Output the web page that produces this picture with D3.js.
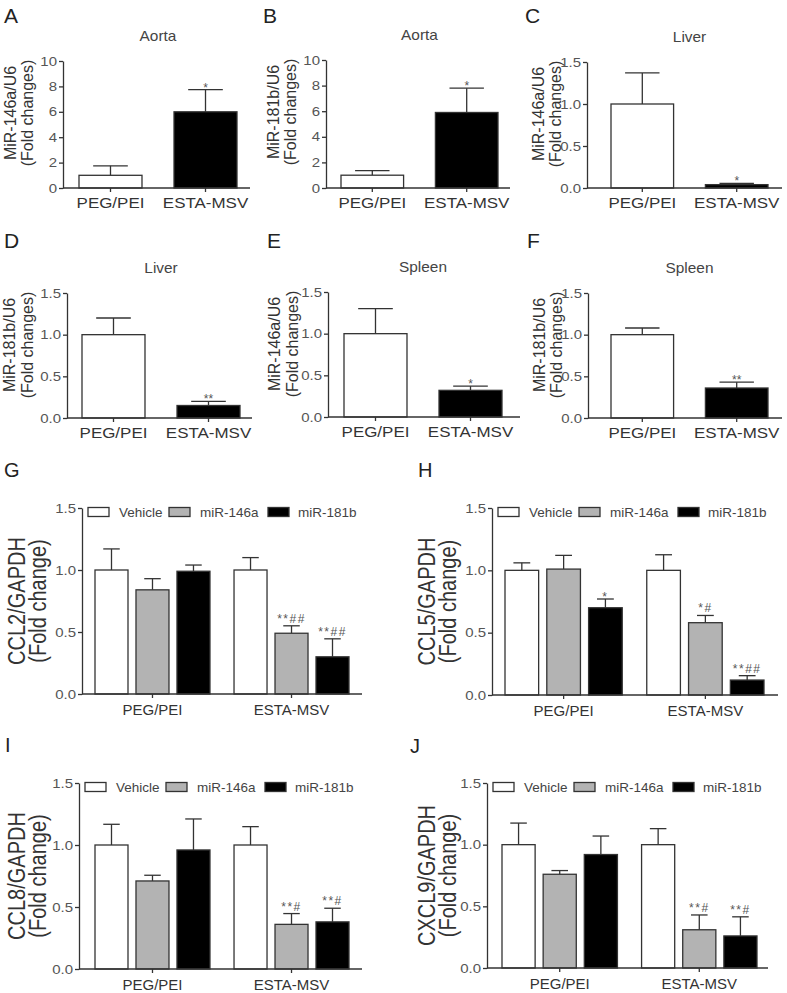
<!DOCTYPE html>
<html><head><meta charset="utf-8">
<script src="https://cdn.jsdelivr.net/npm/d3@7"></script>
<style>
html,body{margin:0;padding:0;background:#fff;}
svg text{font-family:'Liberation Sans',Arial,Helvetica,sans-serif;}
</style></head>
<body><svg id="chart" width="787" height="993"></svg>
<script>
// ---------- DATA ----------
const groups = ["PEG/PEI", "ESTA-MSV"];
const series = ["Vehicle", "miR-146a", "miR-181b"];
const seriesColors = ["#ffffff", "#b3b3b3", "#000000"];

const topLetters = ["A", "B", "C", "D", "E", "F"];
const topTitles = ["Aorta", "Aorta", "Liver", "Liver", "Spleen", "Spleen"];
const topYLabels = ["MiR-146a/U6", "MiR-181b/U6", "MiR-146a/U6", "MiR-181b/U6", "MiR-146a/U6", "MiR-181b/U6"];
const topYLabel2 = "(Fold changes)";
const aortaTicks = [0, 2, 4, 6, 8, 10];
const fracTicks = [0, 0.5, 1.0, 1.5];

const aMean = [1.0, 6.0],  aErr = [0.75, 1.75],  aSig = ["", "*"];
const bMean = [1.0, 5.9],  bErr = [0.35, 1.9],   bSig = ["", "*"];
const cMean = [1.0, 0.04], cErr = [0.37, 0.015], cSig = ["", "*"];
const dMean = [1.0, 0.15], dErr = [0.20, 0.05],  dSig = ["", "**"];
const eMean = [1.0, 0.32], eErr = [0.30, 0.05],  eSig = ["", "*"];
const fMean = [1.0, 0.36], fErr = [0.08, 0.07],  fSig = ["", "**"];

const bottomLetters = ["G", "H", "I", "J"];
const bottomYLabels = ["CCL2/GAPDH", "CCL5/GAPDH", "CCL8/GAPDH", "CXCL9/GAPDH"];
const bottomYLabel2 = "(Fold change)";

// values per group [PEG/PEI, ESTA-MSV]
const ccl2Vehicle = [1.0, 1.0],   ccl2VehicleErr = [0.17, 0.10];
const ccl2Mir146a = [0.84, 0.49], ccl2Mir146aErr = [0.09, 0.06];
const ccl2Mir181b = [0.99, 0.30], ccl2Mir181bErr = [0.05, 0.145];
const ccl2Sig146a = ["", "**##"], ccl2Sig181b = ["", "**##"];

const ccl5Vehicle = [1.0, 1.0],   ccl5VehicleErr = [0.06, 0.125];
const ccl5Mir146a = [1.01, 0.58], ccl5Mir146aErr = [0.11, 0.058];
const ccl5Mir181b = [0.70, 0.12], ccl5Mir181bErr = [0.07, 0.035];
const ccl5Sig146a = ["", "*#"],   ccl5Sig181b = ["*", "**##"];

const ccl8Vehicle = [1.0, 1.0],   ccl8VehicleErr = [0.167, 0.148];
const ccl8Mir146a = [0.71, 0.36], ccl8Mir146aErr = [0.046, 0.087];
const ccl8Mir181b = [0.96, 0.38], ccl8Mir181bErr = [0.25, 0.11];
const ccl8Sig146a = ["", "**#"],  ccl8Sig181b = ["", "**#"];

const cxcl9Vehicle = [1.0, 1.0],   cxcl9VehicleErr = [0.175, 0.13];
const cxcl9Mir146a = [0.76, 0.31], cxcl9Mir146aErr = [0.03, 0.12];
const cxcl9Mir181b = [0.92, 0.26], cxcl9Mir181bErr = [0.15, 0.155];
const cxcl9Sig146a = ["", "**#"],  cxcl9Sig181b = ["", "**#"];

// ---------- LAYOUT ----------
const topLayout = [
  {axisX:63,  yTop:61,  y0:188, bs:79,  be:237, xEnd:250, yl:[16,33],   lx:4},
  {axisX:326, yTop:60,  y0:188, bs:341, be:498, xEnd:510, yl:[279,296], lx:263},
  {axisX:587, yTop:62,  y0:188, bs:611, be:768, xEnd:782, yl:[544,561], lx:525},
  {axisX:67,  yTop:293, y0:418, bs:82,  be:240, xEnd:252, yl:[15,33],   lx:4},
  {axisX:328, yTop:292, y0:417, bs:344, be:502, xEnd:520, yl:[280,298], lx:267},
  {axisX:588, yTop:293, y0:418, bs:611, be:768, xEnd:782, yl:[545,562], lx:527}
];
const bottomLayout = [
  {axisX:82,  yTop:508, y0:694, bs:95,  be:349, xEnd:362, yl:[25,46],   lx:4,   ly:477},
  {axisX:492, yTop:508, y0:695, bs:505, be:764, xEnd:778, yl:[435,456], lx:418, ly:477},
  {axisX:79,  yTop:783, y0:969, bs:95,  be:349, xEnd:362, yl:[25,46],   lx:5,   ly:752},
  {axisX:487, yTop:783, y0:968, bs:502, be:757, xEnd:768, yl:[435,456], lx:410, ly:753}
];

const svg = d3.select("#chart");
const AX = "#333";

function stext(g, x, y, str, o) {
  o = o || {};
  const t = g.append("text")
    .attr("transform", `translate(${x},${y}) scale(${o.sx||1},1)` + (o.rot ? ` rotate(${o.rot})` : ""))
    .attr("text-anchor", o.anchor || "start")
    .attr("font-size", o.size || 12)
    .attr("fill", o.fill || "#333")
    .text(str);
  if (o.ls) t.attr("letter-spacing", o.ls);
  return t;
}

function styleYAxis(g, sx) {
  g.select(".domain").attr("stroke", AX).attr("stroke-width", 1.3);
  g.selectAll(".tick line").attr("stroke", AX).attr("stroke-width", 1.3);
  g.selectAll(".tick text").each(function() {
    const t = d3.select(this);
    t.attr("transform", `translate(-6,0) scale(${sx},1)`).attr("x", 0)
     .attr("font-size", 12.5).attr("fill", "#555").attr("font-family", null);
  });
}

function drawXAxis(g, L, xs) {
  g.append("line").attr("x1", L.axisX).attr("x2", L.xEnd).attr("y1", L.y0).attr("y2", L.y0)
    .attr("stroke", AX).attr("stroke-width", 1.3);
  const ax = g.append("g").attr("transform", `translate(0,${L.y0})`)
    .call(d3.axisBottom(xs).tickSize(4).tickSizeOuter(0).tickFormat(""));
  ax.select(".domain").remove();
  ax.selectAll(".tick line").attr("stroke", AX).attr("stroke-width", 1.3);
}

function errBar(g, cx, yTopPx, yCapPx, w) {
  g.append("line").attr("x1", cx).attr("x2", cx).attr("y1", yTopPx).attr("y2", yCapPx)
    .attr("stroke", AX).attr("stroke-width", 1.3);
  g.append("line").attr("x1", cx - w/2).attr("x2", cx + w/2).attr("y1", yCapPx).attr("y2", yCapPx)
    .attr("stroke", AX).attr("stroke-width", 1.3);
}

function sigText(g, cx, capY, s, size, ls) {
  if (!s) return;
  const onlyStars = /^\*+$/.test(s);
  const y = onlyStars ? capY + 2 : capY - 3;
  stext(g, cx, y, s, {anchor:"middle", size:size, fill:"#555", ls:ls});
}

// ---------- TOP PANELS ----------
const topMeans = [aMean, bMean, cMean, dMean, eMean, fMean];
const topErrs = [aErr, bErr, cErr, dErr, eErr, fErr];
const topSigs = [aSig, bSig, cSig, dSig, eSig, fSig];
const topFills = ["#ffffff", "#000000"];

topLayout.forEach((L, i) => {
  const g = svg.append("g");
  const isAorta = i < 2;
  const ticks = isAorta ? aortaTicks : fracTicks;
  const y = d3.scaleLinear().domain([0, isAorta ? 10 : 1.5]).range([L.y0, L.yTop]);
  const xs = d3.scaleBand().domain(groups).range([L.bs, L.be]).paddingInner(0.337).paddingOuter(0);

  groups.forEach((grp, k) => {
    const x0 = xs(grp), w = xs.bandwidth();
    const m = topMeans[i][k], e = topErrs[i][k];
    errBar(g, x0 + w/2, y(m), y(m + e), w * 0.55);
    g.append("rect").attr("x", x0).attr("y", y(m)).attr("width", w).attr("height", L.y0 - y(m))
      .attr("fill", topFills[k]).attr("stroke", AX).attr("stroke-width", 1.3);
    sigText(g, x0 + w/2, y(m + e), topSigs[i][k], 12);
    stext(g, x0 + w/2, L.y0 + 20, grp, {anchor:"middle", size:15, sx:1.13, fill:"#333"});
  });

  const ya = g.append("g").attr("transform", `translate(${L.axisX},0)`)
    .call(d3.axisLeft(y).tickValues(ticks).tickSize(4).tickSizeOuter(0)
      .tickFormat(isAorta ? d3.format("d") : d3.format(".1f")));
  styleYAxis(ya, 1.2);
  drawXAxis(g, L, xs);

  stext(g, (L.bs + L.be)/2, L.yTop - 20, topTitles[i], {anchor:"middle", size:14, sx:1.1, fill:"#444"});
  stext(g, L.lx, i < 3 ? 23 : 248, topLetters[i], {size:21, fill:"#222"});
  const cy = L.yTop + 52;
  stext(g, L.yl[0], cy, topYLabels[i], {anchor:"middle", size:16, sx:1.05, rot:-90, fill:"#333"});
  stext(g, L.yl[1], cy, topYLabel2, {anchor:"middle", size:16, sx:1.05, rot:-90, fill:"#333"});
});

// ---------- BOTTOM PANELS ----------
const bottomVals = [
  [ccl2Vehicle, ccl2Mir146a, ccl2Mir181b],
  [ccl5Vehicle, ccl5Mir146a, ccl5Mir181b],
  [ccl8Vehicle, ccl8Mir146a, ccl8Mir181b],
  [cxcl9Vehicle, cxcl9Mir146a, cxcl9Mir181b]
];
const bottomErrs = [
  [ccl2VehicleErr, ccl2Mir146aErr, ccl2Mir181bErr],
  [ccl5VehicleErr, ccl5Mir146aErr, ccl5Mir181bErr],
  [ccl8VehicleErr, ccl8Mir146aErr, ccl8Mir181bErr],
  [cxcl9VehicleErr, cxcl9Mir146aErr, cxcl9Mir181bErr]
];
const bottomSigs = [
  [["", ""], ccl2Sig146a, ccl2Sig181b],
  [["", ""], ccl5Sig146a, ccl5Sig181b],
  [["", ""], ccl8Sig146a, ccl8Sig181b],
  [["", ""], cxcl9Sig146a, cxcl9Sig181b]
];

bottomLayout.forEach((L, i) => {
  const g = svg.append("g");
  const y = d3.scaleLinear().domain([0, 1.5]).range([L.y0, L.yTop]);
  const xs = d3.scaleBand().domain(groups).range([L.bs, L.be]).paddingInner(0.173).paddingOuter(0);
  const xi = d3.scaleBand().domain(series).range([0, xs.bandwidth()]).paddingInner(0.195).paddingOuter(0);

  groups.forEach((grp, k) => {
    series.forEach((s, j) => {
      const x0 = xs(grp) + xi(s), w = xi.bandwidth();
      const m = bottomVals[i][j][k], e = bottomErrs[i][j][k];
      errBar(g, x0 + w/2, y(m), y(m + e), w * 0.5);
      g.append("rect").attr("x", x0).attr("y", y(m)).attr("width", w).attr("height", L.y0 - y(m))
        .attr("fill", seriesColors[j]).attr("stroke", AX).attr("stroke-width", 1.3);
      sigText(g, x0 + w/2, y(m + e), bottomSigs[i][j][k], 12, 1.5);
    });
    stext(g, xs(grp) + xs.bandwidth()/2, L.y0 + 21, grp, {anchor:"middle", size:15, fill:"#333"});
  });

  const ya = g.append("g").attr("transform", `translate(${L.axisX},0)`)
    .call(d3.axisLeft(y).tickValues(fracTicks).tickSize(4).tickSizeOuter(0).tickFormat(d3.format(".1f")));
  styleYAxis(ya, 1.2);
  drawXAxis(g, L, xs);

  const ly = L.yTop + 4;
  const boxOff = [6, 87, 186], txtOff = [37, 118, 216];
  series.forEach((s, j) => {
    g.append("rect").attr("x", L.axisX + boxOff[j]).attr("y", ly - 4.5).attr("width", 21).attr("height", 9)
      .attr("fill", seriesColors[j]).attr("stroke", AX).attr("stroke-width", 1.3);
    stext(g, L.axisX + txtOff[j], ly + 4.5, s, {size:12.5, sx:1.08, fill:"#444"});
  });

  stext(g, L.lx, L.ly, bottomLetters[i], {size:20, fill:"#222"});
  const cy = (L.y0 + L.yTop) / 2;
  stext(g, L.yl[0], cy, bottomYLabels[i], {anchor:"middle", size:20, sx:1.15, rot:-90, fill:"#333"});
  stext(g, L.yl[1], cy, bottomYLabel2, {anchor:"middle", size:20, sx:1.15, rot:-90, fill:"#333"});
});
</script></body></html>
